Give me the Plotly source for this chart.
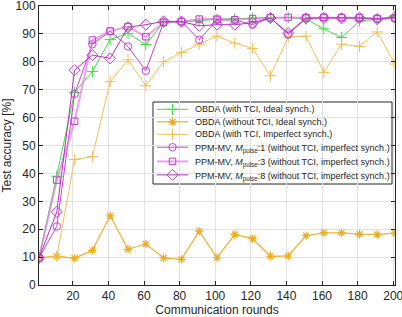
import plotly.graph_objects as go

# ---------------- data ----------------
rounds = [1, 11, 21, 31, 41, 51, 61, 71, 81, 91, 101, 111, 121, 131, 141, 151, 161, 171, 181, 191, 201]

obda_tci_ideal = [9.7, 39, 69, 76.5, 88, 90.2, 86.2, 94.1, 94.4, 94.7, 95.3, 95.5, 95.6, 95.8, 95.9, 95.3, 91.8, 88.7, 94.6, 95.2, 96.5]
obda_notci_ideal = [9.8, 10.3, 9.6, 12.4, 24.8, 12.8, 14.7, 9.7, 9.2, 19.3, 9.8, 18.1, 16.6, 10.3, 10.4, 17.7, 18.7, 18.7, 18.2, 18.1, 18.6]
obda_tci_imperfect = [9.7, 10.3, 45, 46, 72.9, 80.7, 71.4, 80.0, 83.3, 86.3, 89.2, 86.7, 84.8, 75.0, 88.9, 89.2, 76.2, 86.3, 85.5, 90.7, 79.2]
ppm_m1 = [9.7, 21, 68.5, 86.3, 91, 85.5, 76.8, 94.1, 94.4, 87.9, 95.0, 95.0, 93.3, 95.8, 89.8, 95.6, 95.9, 95.9, 95.8, 95.4, 95.5]
ppm_m3 = [9.7, 37.6, 58.7, 87.8, 91, 92.6, 89, 94.1, 94.4, 95.3, 95.3, 95.1, 95.5, 95.8, 95.9, 95.8, 95.9, 95.8, 95.8, 95.5, 95.7]
ppm_m8 = [9.7, 26.2, 77, 82.4, 81.2, 92.4, 93.3, 94.5, 94.4, 92.9, 93.3, 93.3, 94.0, 95.7, 90.3, 95.6, 95.7, 95.6, 95.7, 95.3, 96.0]

x_ticks = [20, 40, 60, 80, 100, 120, 140, 160, 180, 200]
y_ticks = [0, 10, 20, 30, 40, 50, 60, 70, 80, 90, 100]

names = [
    "OBDA (with TCI, Ideal synch.)",
    "OBDA (without TCI, Ideal synch.)",
    "OBDA (with TCI, Imperfect synch.)",
    "PPM-MV, <i>M</i><sub>pulse</sub>:1 (without TCI, imperfect synch.)",
    "PPM-MV, <i>M</i><sub>pulse</sub>:3 (without TCI, imperfect synch.)",
    "PPM-MV, <i>M</i><sub>pulse</sub>:8 (without TCI, imperfect synch.)",
]
series = [obda_tci_ideal, obda_notci_ideal, obda_tci_imperfect, ppm_m1, ppm_m3, ppm_m8]

# ---------------- styles ----------------
FONT = "Liberation Sans, Arial, Helvetica, sans-serif"
TXT = "#262626"
styles = [
    dict(line=dict(color="#3ee03e", width=1),
         marker=dict(symbol="cross-thin", size=8, line=dict(color="#3ee03e", width=1))),
    dict(line=dict(color="#f0b43c", width=1.3),
         marker=dict(symbol="asterisk", size=7, line=dict(color="#eeaa22", width=1.2))),
    dict(line=dict(color="#f5c05a", width=1),
         marker=dict(symbol="cross-thin", size=8, line=dict(color="#f5bb50", width=1))),
    dict(line=dict(color="#cc3fd6", width=1),
         marker=dict(symbol="circle-open", size=7.5, color="#cc3fd6", line=dict(width=1))),
    dict(line=dict(color="rgba(225,120,225,0.7)", width=2),
         marker=dict(symbol="square-open", size=6.5, color="#c83ad0", line=dict(width=1))),
    dict(line=dict(color="#b530c0", width=1),
         marker=dict(symbol="diamond-open", size=8.5, color="#c03ccc", line=dict(width=1))),
]

W, H = 402, 317
ML, MR, MT, MB = 39, 7, 6, 32
PW, PH = W - ML - MR, H - MT - MB

fig = go.Figure()
for nm, ys, st in zip(names, series, styles):
    fig.add_trace(go.Scatter(x=rounds, y=ys, name=nm, mode="lines+markers",
                             showlegend=False, **st))

# ---------------- legend (drawn to match the compact original) ----------------
leg_box = dict(x0=153, x1=392, y0=102, y1=184)     # figure pixels
leg_rows = [109.3, 121.8, 134.4, 147.2, 161.4, 174.9]
leg_line = (157, 188)
leg_text_x = 193


def px_to_paper_x(px):
    return (px - ML) / PW


def px_to_paper_y(py):
    return 1 - (py - MT) / PH


fig.add_shape(type="rect", xref="paper", yref="paper", layer="between",
              x0=px_to_paper_x(leg_box["x0"]), x1=px_to_paper_x(leg_box["x1"]),
              y0=px_to_paper_y(leg_box["y1"]), y1=px_to_paper_y(leg_box["y0"]),
              fillcolor="white", line=dict(color=TXT, width=1))

for i, (nm, st, ry) in enumerate(zip(names, styles, leg_rows)):
    ly = ry - MT
    fig.add_trace(go.Scatter(x=[leg_line[0] - ML, leg_line[1] - ML], y=[ly, ly], mode="lines",
                             line=st["line"], xaxis="x2", yaxis="y2", showlegend=False,
                             hoverinfo="skip"))
    fig.add_trace(go.Scatter(x=[(leg_line[0] + leg_line[1]) / 2 - ML], y=[ly], mode="markers",
                             marker=st["marker"], xaxis="x2", yaxis="y2", showlegend=False,
                             hoverinfo="skip"))
    fig.add_annotation(xref="paper", yref="paper", x=px_to_paper_x(leg_text_x),
                       y=px_to_paper_y(ry), xanchor="left", yanchor="middle",
                       yshift=-2 if "<sub>" in nm else 0,
                       text=nm, showarrow=False,
                       font=dict(family=FONT, size=9, color=TXT))

axis_common = dict(
    showgrid=True, gridcolor="#e3e3e3", gridwidth=1,
    showline=True, linecolor=TXT, linewidth=1, mirror="allticks",
    ticks="inside", ticklen=4, tickcolor=TXT,
    tickfont=dict(family=FONT, size=12, color=TXT),
    ticklabeloverflow="allow",
    zeroline=False,
)

fig.update_layout(
    width=W, height=H,
    margin=dict(l=ML, r=MR, t=MT, b=MB, autoexpand=False),
    paper_bgcolor="white", plot_bgcolor="white",
    showlegend=False,
    xaxis=dict(range=[1, 201], tickvals=x_ticks, **axis_common,
               title=dict(text="Communication rounds", standoff=1,
                          font=dict(family=FONT, size=12, color=TXT))),
    yaxis=dict(range=[0, 100], tickvals=y_ticks, **axis_common,
               title=dict(text="Test accuracy [%]", standoff=2,
                          font=dict(family=FONT, size=12, color=TXT))),
    xaxis2=dict(overlaying="x", range=[0, PW], visible=False, fixedrange=True),
    yaxis2=dict(overlaying="y", range=[PH, 0], visible=False, fixedrange=True),
)

fig.write_html("out.html", config={"displayModeBar": False},
               post_script="document.body.style.margin='0';document.body.style.overflow='hidden';")
